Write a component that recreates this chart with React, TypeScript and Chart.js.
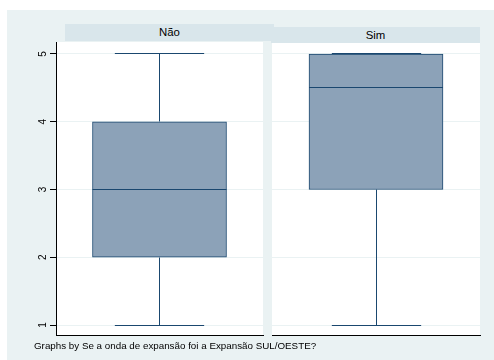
import React, { useEffect, useRef } from 'react';
import { Chart, registerables } from 'chart.js';

Chart.register(...registerables);

// ---- data ----
const groups = ['Não', 'Sim'];
const minVals = [1, 1];
const q1Vals = [2, 3];
const medianVals = [3, 4.5];
const q3Vals = [4, 5];
const maxVals = [5, 5];
const yTicks = [1, 2, 3, 4, 5];
const yMin = 0.8524;
const yMax = 5.1771;
const footnote = 'Graphs by Se a onda de expansão foi a Expansão SUL/OESTE?';

// ---- styles ----
const NAVY = '#1A476F';
const BOX_FILL = '#8CA2B8';
const BG = '#EAF2F3';
const STRIP = '#D9E6EB';
const GRID = '#EAF2F3';
const FONT = '"Liberation Sans", Arial, Helvetica, sans-serif';

const boxPlugin = {
  id: 'boxPlot',
  beforeDraw(chart: any) {
    const { ctx, chartArea: a } = chart;
    ctx.save();
    ctx.fillStyle = '#ffffff';
    ctx.fillRect(a.left, a.top, a.right - a.left, a.bottom - a.top);
    ctx.restore();
  },
  afterDatasetsDraw(chart: any, _args: any, opts: any) {
    const i = opts.index;
    const { ctx } = chart;
    const ys = chart.scales.y;
    const bar = chart.getDatasetMeta(0).data[0];
    const { x, width } = bar.getProps(['x', 'width'], true);
    const cx = Math.round(x - 0.5) + 0.5;
    const capW = (width * 2) / 3;
    const py = (v: number) => Math.round(ys.getPixelForValue(v) - 0.5) + 0.5;
    ctx.save();
    ctx.strokeStyle = NAVY;
    ctx.lineWidth = 1;
    ctx.beginPath();
    // upper whisker
    ctx.moveTo(cx, py(q3Vals[i]));
    ctx.lineTo(cx, py(maxVals[i]));
    ctx.moveTo(cx - capW / 2, py(maxVals[i]));
    ctx.lineTo(cx + capW / 2, py(maxVals[i]));
    // lower whisker
    ctx.moveTo(cx, py(q1Vals[i]));
    ctx.lineTo(cx, py(minVals[i]));
    ctx.moveTo(cx - capW / 2, py(minVals[i]));
    ctx.lineTo(cx + capW / 2, py(minVals[i]));
    // median
    ctx.moveTo(x - width / 2, py(medianVals[i]));
    ctx.lineTo(x + width / 2, py(medianVals[i]));
    ctx.stroke();
    ctx.restore();
  },
};

type PanelProps = {
  index: number;
  width: number;
  left: number;
  showAxis: boolean;
  padLeft: number;
  padRight: number;
};

function Panel({ index, width, left, showAxis, padLeft, padRight }: PanelProps) {
  const ref = useRef<HTMLCanvasElement>(null);
  useEffect(() => {
    const chart = new Chart(ref.current as HTMLCanvasElement, {
      type: 'bar',
      data: {
        labels: [groups[index]],
        datasets: [
          {
            data: [[q1Vals[index], q3Vals[index]]] as any,
            backgroundColor: BOX_FILL,
            borderColor: NAVY,
            borderWidth: 1,
            borderSkipped: false,
            barThickness: 134,
          },
        ],
      },
      options: {
        responsive: false,
        animation: false,
        devicePixelRatio: 1,
        events: [],
        layout: { padding: { left: padLeft, right: padRight, top: 42, bottom: 25 } },
        plugins: {
          legend: { display: false },
          tooltip: { enabled: false },
          boxPlot: { index },
        } as any,
        scales: {
          x: {
            type: 'category',
            display: true,
            grid: { display: false, drawTicks: false },
            ticks: { display: false },
            border: { display: true, color: '#000000', width: 1 },
            afterFit: (s: any) => {
              s.height = 0;
            },
          },
          y: {
            type: 'linear',
            min: yMin,
            max: yMax,
            afterBuildTicks: (s: any) => {
              s.ticks = yTicks.map((v) => ({ value: v }));
            },
            grid: {
              display: true,
              color: GRID,
              lineWidth: 1,
              drawTicks: showAxis,
              tickLength: 6,
              tickColor: '#000000',
              tickWidth: 1,
            },
            border: { display: showAxis, color: '#000000', width: 1 },
            ticks: {
              display: showAxis,
              font: { family: FONT, size: 10 },
              color: '#000000',
              padding: 4,
              minRotation: 90,
              maxRotation: 90,
              crossAlign: 'center',
            },
            afterFit: (s: any) => {
              s.width = showAxis ? 56 : 0;
            },
          } as any,
        },
      },
      plugins: [boxPlugin],
    });
    return () => chart.destroy();
  }, []);
  return (
    <canvas
      ref={ref}
      width={width}
      height={360}
      style={{ position: 'absolute', left, top: 0, width, height: 360 }}
    />
  );
}

export default function App() {
  const headerStyle: React.CSSProperties = {
    position: 'absolute',
    background: STRIP,
    textAlign: 'center',
    fontFamily: FONT,
    fontSize: 11.4,
    color: '#000',
  };
  return (
    <div
      style={{
        position: 'absolute',
        left: 0,
        top: 0,
        width: 494,
        height: 360,
        background: '#ffffff',
        overflow: 'hidden',
      }}
    >
      <div style={{ position: 'absolute', left: 7, top: 10, width: 487, height: 350, background: BG }} />
      <Panel index={0} width={268} left={0} showAxis={true} padLeft={0} padRight={5} />
      <Panel index={1} width={226} left={268} showAxis={false} padLeft={4} padRight={14} />
      <div style={{ ...headerStyle, left: 65, top: 24, width: 209, height: 17, lineHeight: '17px' }}>{groups[0]}</div>
      <div style={{ ...headerStyle, left: 271, top: 27, width: 209, height: 16, lineHeight: '16px' }}>{groups[1]}</div>
      <div
        style={{
          position: 'absolute',
          left: 34,
          top: 340,
          fontFamily: FONT,
          fontSize: 9.8,
          lineHeight: '12px',
          color: '#000',
          whiteSpace: 'nowrap',
        }}
      >
        {footnote}
      </div>
    </div>
  );
}
